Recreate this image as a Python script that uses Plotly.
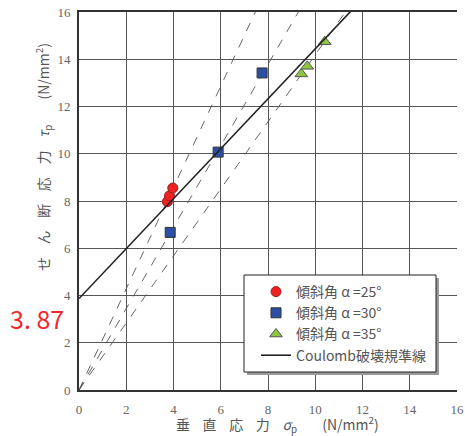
import plotly.graph_objects as go
import numpy as np

# --- data ---
sigma_25 = [3.74, 3.83, 3.97]
tau_25 = [7.97, 8.22, 8.55]
sigma_30 = [3.86, 5.89, 7.75]
tau_30 = [6.67, 10.07, 13.42]
sigma_35 = [9.41, 9.66, 10.40]
tau_35 = [13.38, 13.70, 14.74]
coulomb_c = 3.87
coulomb_slope = 1.057
x_ticks = [0, 2, 4, 6, 8, 10, 12, 14, 16]
y_ticks = [0, 2, 4, 6, 8, 10, 12, 14, 16]
names = ["傾斜角 α =25°", "傾斜角 α =30°", "傾斜角 α =35°", "Coulomb破壊規準線"]

W, H = 465, 436
PL, PR, PT, PB = 79, 457, 12, 390   # plot area in window pixels
L, R, T, B = PL, W - PR, PT, H - PB
pw, ph = PR - PL, PB - PT

def px(xp):
    return (xp - PL) / pw

def py(yp):
    return (PB - yp) / ph

fig = go.Figure()

# dashed lines through origin for each group
for s, t in [(sigma_25, tau_25), (sigma_30, tau_30), (sigma_35, tau_35)]:
    k = float(np.mean(np.array(t) / np.array(s)))
    xs = [0, 16]
    fig.add_trace(go.Scatter(x=xs, y=[k * v for v in xs], mode="lines",
                             line=dict(color="#555555", width=0.9, dash="dash"),
                             showlegend=False, hoverinfo="skip"))

fig.add_trace(go.Scatter(x=sigma_25, y=tau_25, mode="markers", name=names[0],
                         marker=dict(symbol="circle", size=10, color="#ee2222",
                                     line=dict(color="#992222", width=1))))
fig.add_trace(go.Scatter(x=sigma_30, y=tau_30, mode="markers", name=names[1],
                         marker=dict(symbol="square", size=10, color="#2b4fa3",
                                     line=dict(color="#333333", width=1))))
fig.add_trace(go.Scatter(x=sigma_35, y=tau_35, mode="markers", name=names[2],
                         marker=dict(symbol="triangle-up", size=11, color="#8dc63f",
                                     line=dict(color="#555555", width=1))))
xc = [0, 16]
fig.add_trace(go.Scatter(x=xc, y=[coulomb_c + coulomb_slope * v for v in xc], mode="lines",
                         name=names[3], line=dict(color="#222222", width=1.6)))

tickfont = dict(family="Liberation Serif, DejaVu Serif, serif", size=13, color="#666666")

fig.update_xaxes(range=[0, 16], tickvals=x_ticks, showgrid=True, gridcolor="#555555",
                 gridwidth=1, zeroline=False, showline=True, linecolor="#333333",
                 linewidth=2, mirror=True, ticks="outside", ticklen=6,
                 tickcolor="rgba(0,0,0,0)", tickfont=tickfont, automargin=False,
                 ticklabeloverflow="allow")
fig.update_yaxes(range=[0, 16], tickvals=y_ticks, showgrid=True, gridcolor="#555555",
                 gridwidth=1, zeroline=False, showline=True, linecolor="#333333",
                 linewidth=2, mirror=False, ticks="outside", ticklen=4,
                 tickcolor="rgba(0,0,0,0)", tickfont=tickfont, automargin=False,
                 ticklabeloverflow="allow")

# legend box with shadow
fig.add_shape(type="rect", xref="paper", yref="paper",
              x0=px(247), x1=px(439), y0=py(375), y1=py(278),
              fillcolor="#999999", line=dict(width=0), layer="above")
fig.add_shape(type="rect", xref="paper", yref="paper",
              x0=px(244), x1=px(436), y0=py(372), y1=py(275),
              fillcolor="white", line=dict(color="#222222", width=1), layer="above")

cjk = "Noto Sans CJK JP, Liberation Serif, serif"
ys = "\u2002\u2009\u2009"
fig.update_layout(
    width=W, height=H,
    margin=dict(l=L, r=R, t=T, b=B, autoexpand=False),
    paper_bgcolor="white", plot_bgcolor="white",
    showlegend=True,
    legend=dict(x=px(256), y=py(276), xanchor="left", yanchor="top",
                bgcolor="rgba(0,0,0,0)", borderwidth=0,
                font=dict(family=cjk, size=14, color="#555555"),
                itemwidth=30, tracegroupgap=0),
    annotations=[
        dict(text=ys.join(["せ", "ん", "断", "応", "力"]) + ys + "<i>τ</i><sub>p</sub>" + ys + ys + "(N/mm<sup>2</sup>)",
             xref="paper", yref="paper", x=px(43), y=py(157), showarrow=False,
             xanchor="center", yanchor="middle",
             textangle=-90, font=dict(family=cjk, size=14, color="#555555")),
        dict(text=ys.join(["垂", "直", "応", "力"]) + ys + "<i>σ</i><sub>p</sub>" + ys + ys + "(N/mm<sup>2</sup>)",
             xref="paper", yref="paper", x=px(277), y=py(424), showarrow=False,
             xanchor="center", yanchor="middle",
             font=dict(family=cjk, size=14, color="#555555")),
        dict(text="3. 87", xref="paper", yref="paper", x=px(37), y=py(318),
             showarrow=False, xanchor="center", yanchor="middle",
             font=dict(family="Noto Sans CJK JP, sans-serif", size=25, color="#f0282d")),
    ],
)

fig.write_html("out.html", config={"displayModeBar": False},
               post_script="document.body.style.margin='0px';document.body.style.overflow='hidden';")
